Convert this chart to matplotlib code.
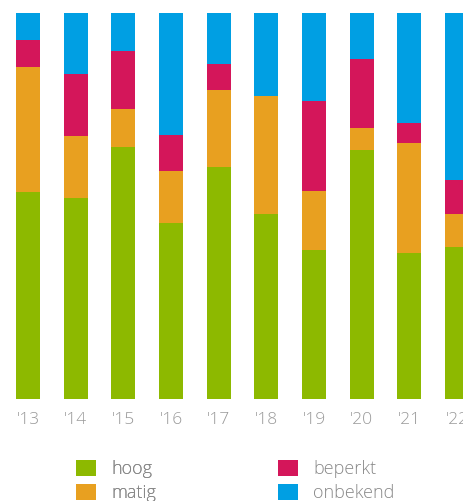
import numpy as np
import matplotlib
matplotlib.use("Agg")
import matplotlib.pyplot as plt
from matplotlib.patches import Patch

plt.rcParams['font.family'] = ['Open Sans', 'DejaVu Sans']

years = ["'13", "'14", "'15", "'16", "'17", "'18", "'19", "'20", "'21", "'22"]
hoog = [53.6, 52.1, 65.3, 45.6, 60.1, 47.9, 38.6, 64.5, 37.8, 39.4]
matig = [32.4, 16.1, 9.8, 13.5, 19.9, 30.6, 15.3, 5.7, 28.5, 8.5]
beperkt = [7.0, 16.1, 15.0, 9.3, 6.7, 0.0, 23.3, 17.9, 5.2, 8.8]
onbekend = [7.0, 15.7, 9.9, 31.6, 13.3, 21.5, 22.8, 11.9, 28.5, 43.3]

labels = ['hoog', 'matig', 'beperkt', 'onbekend']
colors = ['#8db900', '#e8a020', '#d4165a', '#009fe3']

fig = plt.figure(figsize=(4.63, 5.01), dpi=100)
ax = fig.add_axes([0, 102 / 501, 1, 386 / 501])

x = np.arange(len(years))
bottom = np.zeros(len(years))
for vals, col in zip([hoog, matig, beperkt, onbekend], colors):
    ax.bar(x, vals, width=0.5, bottom=bottom, color=col, linewidth=0)
    bottom += np.array(vals)

ax.set_xlim(-28 / 47.67, (463 - 28) / 47.67)
ax.set_ylim(0, 100)
ax.set_xticks(x)
ax.set_xticklabels(years, color='#999999', fontsize=12.5, fontweight='light')
ax.tick_params(axis='x', length=0, pad=9)
ax.set_yticks([])
for s in ax.spines.values():
    s.set_visible(False)

# two legend columns, placed separately
handles = [Patch(facecolor=c, edgecolor='none') for c in colors]
leg_kw = dict(loc='upper left', frameon=False, labelcolor='#888888',
              prop={'size': 13, 'weight': 'light'},
              handlelength=1.1, handleheight=1.0, handletextpad=0.85,
              labelspacing=0.3, borderpad=0, borderaxespad=0)
leg1 = fig.legend(handles[:2], labels[:2], bbox_to_anchor=(76 / 463, 1 - 460 / 501), **leg_kw)
fig.add_artist(leg1)
fig.legend(handles[2:], labels[2:], bbox_to_anchor=(278 / 463, 1 - 460 / 501), **leg_kw)

fig.savefig('out.png', dpi=100)
